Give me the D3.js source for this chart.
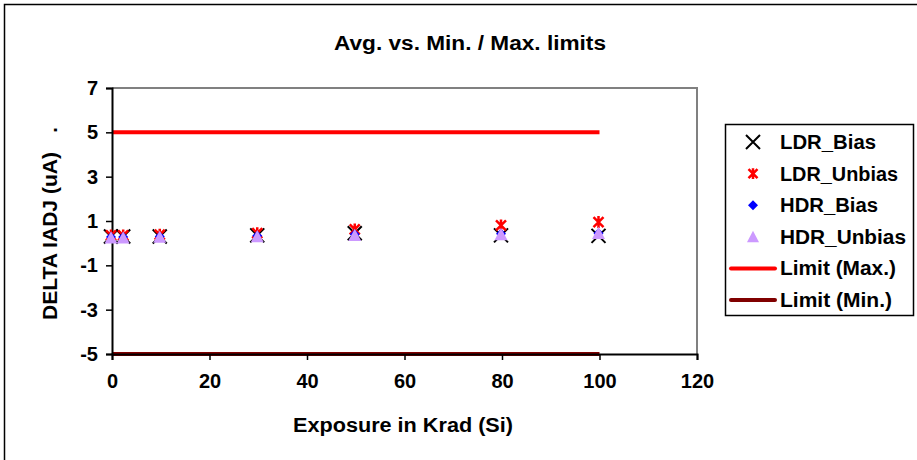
<!DOCTYPE html>
<html><head><meta charset="utf-8">
<script src="https://cdn.jsdelivr.net/npm/d3@7"></script>
<style>
body{margin:0;background:#fff;}
text{font-family:"Liberation Sans",Arial,sans-serif;font-weight:bold;fill:#000;}
</style></head>
<body>
<svg id="c" width="917" height="460"></svg>
<script>
const exposure = [0, 2.5, 10, 30, 50, 80, 100];
const ldrBias   = [0.30, 0.30, 0.30, 0.35, 0.45, 0.35, 0.33];
const ldrUnbias = [0.35, 0.35, 0.38, 0.45, 0.62, 0.80, 0.95];
const hdrBias   = [0.28, 0.28, 0.30, 0.33, 0.40, 0.42, 0.45];
const hdrUnbias = [0.25, 0.25, 0.28, 0.30, 0.36, 0.40, 0.45];
const limitX = [0, 100];
const limitMax = [5, 5];
const limitMin = [-5, -5];
const xTicks = [0, 20, 40, 60, 80, 100, 120];
const yTicks = [-5, -3, -1, 1, 3, 5, 7];
const seriesNames = ["LDR_Bias", "LDR_Unbias", "HDR_Bias", "HDR_Unbias", "Limit (Max.)", "Limit (Min.)"];

const svg = d3.select("#c");
const x = d3.scaleLinear().domain([0, 120]).range([112, 697]);
const y = d3.scaleLinear().domain([-5, 7]).range([354, 88]);

// outer frame
svg.append("rect").attr("x", 4.5).attr("y", 4.5).attr("width", 1000).attr("height", 1000)
  .attr("fill", "none").attr("stroke", "#000").attr("stroke-width", 1.5);

// plot border (grey top/right)
svg.append("path").attr("d", `M${x(0)},${y(7)}H${x(120)}V${y(-5)}`)
  .attr("fill", "none").attr("stroke", "#808080").attr("stroke-width", 2);

// limits
const line = d3.line().x(d => x(d[0])).y(d => y(d[1]));
svg.append("path").attr("d", line(limitX.map((v, i) => [v, limitMax[i]])))
  .attr("stroke", "#ff0000").attr("stroke-width", 4).attr("fill", "none");
svg.append("path").attr("d", line(limitX.map((v, i) => [v, limitMin[i]])))
  .attr("stroke", "#800000").attr("stroke-width", 4).attr("fill", "none");

// axes
const fmt = d => String(d);
const xAxis = svg.append("g").attr("transform", `translate(0,${y(-5)})`)
  .call(d3.axisBottom(x).tickValues(xTicks).tickFormat(fmt).tickSize(6).tickPadding(14));
const yAxis = svg.append("g").attr("transform", `translate(${x(0)},0)`)
  .call(d3.axisLeft(y).tickValues(yTicks).tickFormat(fmt).tickSize(6).tickPadding(8));
[xAxis, yAxis].forEach(g => {
  g.select(".domain").attr("stroke", "#000").attr("stroke-width", 2);
  g.selectAll(".tick line").attr("stroke", "#000").attr("stroke-width", 1.5);
  g.selectAll("text").attr("font-size", 20).attr("font-family", "Liberation Sans, Arial, sans-serif").attr("font-weight", "bold");
});

// markers
function xMark(sel, s) {
  sel.append("path").attr("d", `M${-s},${-s}L${s},${s}M${-s},${s}L${s},${-s}`)
    .attr("stroke", "#000").attr("stroke-width", 2).attr("fill", "none");
}
function star(sel, s) {
  sel.append("path").attr("d", `M${-s},${-s}L${s},${s}M${-s},${s}L${s},${-s}M0,${-s * 1.2}V${s * 1.2}`)
    .attr("stroke", "#ff0000").attr("stroke-width", 2.5).attr("fill", "none");
}
function diamond(sel, s) {
  sel.append("path").attr("d", `M0,${-s}L${s},0L0,${s}L${-s},0Z`).attr("fill", "#0000ff");
}
function tri(sel, s) {
  sel.append("path").attr("d", `M0,${-s}L${s},${s * 0.9}L${-s},${s * 0.9}Z`).attr("fill", "#cc99ff");
}

function drawSeries(vals, fn, s) {
  svg.append("g").selectAll("g").data(exposure.map((e, i) => [e, vals[i]])).join("g")
    .attr("transform", d => `translate(${x(d[0]) - 1},${y(d[1])})`)
    .each(function () { fn(d3.select(this), s); });
}
drawSeries(ldrBias, xMark, 7);
drawSeries(ldrUnbias, star, 5);
drawSeries(hdrBias, diamond, 5);
drawSeries(hdrUnbias, tri, 6.5);

// title
svg.append("text").attr("x", 470).attr("y", 50).attr("text-anchor", "middle")
  .attr("font-size", 20).attr("textLength", 272).attr("lengthAdjust", "spacingAndGlyphs")
  .text("Avg. vs. Min. / Max. limits");
// x title
svg.append("text").attr("x", 403).attr("y", 432).attr("text-anchor", "middle")
  .attr("font-size", 20).attr("textLength", 220).attr("lengthAdjust", "spacingAndGlyphs")
  .text("Exposure in Krad (Si)");
// y title
svg.append("text").attr("transform", "translate(57,236) rotate(-90)").attr("text-anchor", "middle")
  .attr("font-size", 20).attr("textLength", 168).attr("lengthAdjust", "spacingAndGlyphs")
  .text("DELTA IADJ (uA)");
svg.append("text").attr("transform", "translate(57,130) rotate(-90)").attr("text-anchor", "middle")
  .attr("font-size", 20).text(".");

// legend
const lg = svg.append("g");
lg.append("rect").attr("x", 725.5).attr("y", 124.5).attr("width", 188).attr("height", 191)
  .attr("fill", "#fff").attr("stroke", "#000").attr("stroke-width", 1.5);
const ly = d3.scaleLinear().domain([0, 5]).range([142, 300]);
const symFns = [
  g => xMark(g, 7), g => star(g, 4.5), g => diamond(g, 5), g => tri(g, 6)
];
const legendW = [96, 118, 98, 126, 116, 112];
seriesNames.forEach((n, i) => {
  const g = lg.append("g").attr("transform", `translate(753,${ly(i)})`);
  if (i < 4) symFns[i](g);
  else g.append("line").attr("x1", -22).attr("x2", 22).attr("stroke", i === 4 ? "#ff0000" : "#800000")
    .attr("stroke-width", 4).attr("stroke-linecap", "round");
  lg.append("text").attr("x", 780).attr("y", ly(i) + 7).attr("font-size", 20)
    .attr("textLength", legendW[i]).attr("lengthAdjust", "spacingAndGlyphs").text(n);
});
</script>
</body></html>
